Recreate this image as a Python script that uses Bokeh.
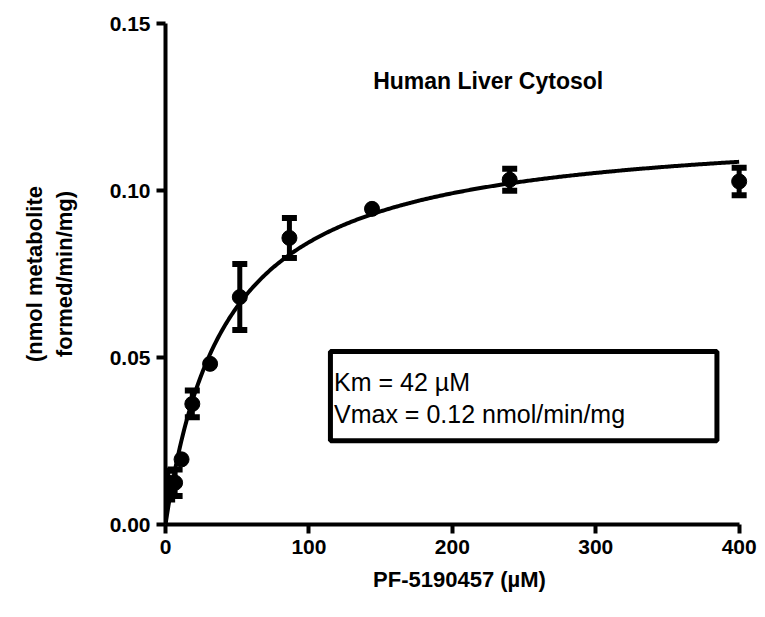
import numpy as np
from bokeh.plotting import figure
from bokeh.models import (Range1d, FixedTicker, NumeralTickFormatter, ColumnDataSource,
                          Whisker, TeeHead, BoxAnnotation, Label)
from bokeh.embed import file_html
from bokeh.resources import INLINE

# ---- data ----
conc_uM = [1.5, 2.4, 4.0, 6.7, 11.2, 18.7, 31.1, 51.8, 86.4, 144, 240, 400]
rate = [0.0118, 0.0115, 0.0125, 0.0125, 0.0195, 0.0361, 0.0481, 0.0681, 0.0858, 0.0945, 0.1032, 0.1027]
rate_err = [0.0043, 0, 0, 0.004, 0, 0.004, 0, 0.0099, 0.006, 0, 0.0033, 0.0041]
km_uM = 42
vmax = 0.12
x_ticks = [0, 100, 200, 300, 400]
y_ticks = [0.00, 0.05, 0.10, 0.15]
title_text = "Human Liver Cytosol"
box_lines = ["Km = 42 µM", "Vmax = 0.12 nmol/min/mg"]
x_label = "PF-5190457 (µM)"
y_label = "(nmol metabolite\nformed/min/mg)"

FONT = "Liberation Sans"

p = figure(width=765, height=617, output_backend="svg", toolbar_location=None,
           x_range=Range1d(0, 410), y_range=Range1d(0, 0.15),
           min_border_left=165, min_border_right=12, min_border_top=23, min_border_bottom=93)
p.outline_line_color = None
p.grid.visible = False
p.background_fill_color = "white"
p.border_fill_color = "white"

for ax in (p.xaxis[0], p.yaxis[0]):
    ax.axis_line_width = 4
    ax.axis_line_color = "black"
    ax.major_tick_line_width = 4
    ax.major_tick_line_color = "black"
    ax.major_tick_out = 9
    ax.major_tick_in = 0
    ax.minor_tick_line_color = None
    ax.major_label_text_font = FONT
    ax.major_label_text_font_style = "bold"
    ax.major_label_text_font_size = "21px"
    ax.major_label_text_color = "black"
    ax.axis_label_text_font = FONT
    ax.axis_label_text_font_style = "bold"
    ax.axis_label_text_font_size = "22px"
    ax.axis_label_text_color = "black"

p.xaxis.ticker = FixedTicker(ticks=x_ticks)
p.xaxis.bounds = (0, 400)
p.xaxis.major_label_standoff = 6
p.xaxis.axis_label = x_label
p.xaxis.axis_label_standoff = 10

p.yaxis.ticker = FixedTicker(ticks=y_ticks)
p.yaxis.formatter = NumeralTickFormatter(format="0.00")
p.yaxis.bounds = (0, 0.15)
p.yaxis.major_label_standoff = 6
p.yaxis.axis_label = y_label
p.yaxis.axis_label_standoff = 30

# fitted Michaelis-Menten curve
xc = np.linspace(0, 400, 400)
yc = vmax * xc / (km_uM + xc)
p.line(xc, yc, line_width=4, line_color="black")

# error bars
err_idx = [i for i, e in enumerate(rate_err) if e > 0]
esrc = ColumnDataSource(dict(
    x=[conc_uM[i] for i in err_idx],
    lo=[rate[i] - rate_err[i] for i in err_idx],
    hi=[rate[i] + rate_err[i] for i in err_idx]))
w = Whisker(source=esrc, base="x", lower="lo", upper="hi", dimension="height",
            line_width=5, line_color="black",
            upper_head=TeeHead(size=15, line_width=6, line_color="black"),
            lower_head=TeeHead(size=15, line_width=6, line_color="black"))
p.add_layout(w)

# points
p.scatter(conc_uM, rate, size=15, marker="circle", fill_color="black", line_color="black")

# parameter box
box = BoxAnnotation(left=115, right=384.5, top=0.0518, bottom=0.0251,
                    fill_color="white", fill_alpha=1.0, line_color="black",
                    line_alpha=1.0, line_width=5)
p.add_layout(box)
p.add_layout(Label(x=117.5, y=0.0428, text=box_lines[0], text_font=FONT,
                   text_font_size="25px", text_baseline="middle", text_color="black"))
p.add_layout(Label(x=117.5, y=0.0330, text=box_lines[1], text_font=FONT,
                   text_font_size="25px", text_baseline="middle", text_color="black"))

# title inside plot
p.add_layout(Label(x=225, y=0.1329, text=title_text, text_font=FONT, text_font_style="bold",
                   text_font_size="23px", text_align="center", text_baseline="middle",
                   text_color="black"))

open("out.html", "w").write(file_html(p, INLINE))
